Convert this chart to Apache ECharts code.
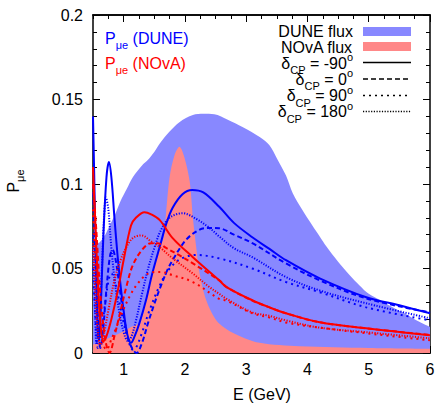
<!DOCTYPE html>
<html><head><meta charset="utf-8">
<script src="https://cdn.jsdelivr.net/npm/echarts@6/dist/echarts.min.js"></script>
<style>html,body{margin:0;padding:0;background:#fff}#c{width:438px;height:403px}</style>
</head><body><div id="c"></div>
<script>
// ---- data (E in GeV, P_mue) ----
const xTickLabels = [1, 2, 3, 4, 5, 6];
const yTickLabels = [0, 0.05, 0.1, 0.15, 0.2];

const duneFluxE = [0.5,0.55,0.62,0.7,0.78,0.86,0.95,1.05,1.15,1.3,1.39,1.5,1.59,1.75,1.91,2.13,2.3,2.48,2.7,2.94,3.22,3.38,3.5,3.65,3.76,3.92,4.08,4.2,4.31,4.5,4.69,4.85,5.0,5.2,5.39,5.61,5.8,6.0];
const duneFluxP = [0.062,0.064,0.066,0.070,0.076,0.082,0.090,0.097,0.104,0.111,0.114,0.119,0.124,0.131,0.1366,0.1408,0.1415,0.1412,0.138,0.1337,0.1278,0.123,0.1153,0.105,0.0946,0.0845,0.0755,0.069,0.063,0.054,0.046,0.040,0.035,0.031,0.027,0.023,0.019,0.0155];

const novaFluxE = [0.5,0.7,0.95,1.1,1.26,1.35,1.42,1.52,1.59,1.65,1.69,1.75,1.83,1.91,1.99,2.08,2.13,2.19,2.24,2.35,2.52,2.78,3.22,3.87,5.0,6.0];
const novaFluxP = [0.005,0.008,0.012,0.015,0.018,0.028,0.041,0.055,0.062,0.068,0.082,0.104,0.117,0.122,0.116,0.101,0.080,0.061,0.047,0.031,0.019,0.012,0.006,0.004,0.003,0.0025];

// DUNE, delta_CP = -90
const duneM90E = [0.5,0.52,0.55,0.58,0.6,0.63,0.67,0.72,0.76,0.8,0.85,0.9,0.95,1.0,1.06,1.12,1.18,1.26,1.37,1.46,1.59,1.7,1.8,1.96,2.12,2.3,2.56,2.8,3.1,3.38,3.65,4.2,4.96,5.5,6.0];
const duneM90P = [0.140,0.105,0.050,0.010,0.008,0.030,0.070,0.104,0.113,0.104,0.080,0.058,0.040,0.025,0.011,0.006,0.010,0.018,0.032,0.046,0.063,0.077,0.086,0.094,0.0965,0.095,0.0865,0.077,0.0685,0.0616,0.0549,0.0442,0.033,0.0282,0.0235];
// DUNE, delta_CP = 0
const dune0E = [0.5,0.55,0.6,0.62,0.66,0.72,0.78,0.82,0.87,0.93,1.0,1.08,1.15,1.21,1.3,1.4,1.5,1.59,1.7,1.8,2.02,2.24,2.4,2.56,2.8,3.1,3.65,4.2,4.96,6.0];
const dune0P = [0.100,0.045,0.008,0.003,0.012,0.038,0.058,0.061,0.055,0.040,0.022,0.008,0.002,0.000,0.006,0.018,0.029,0.038,0.048,0.055,0.067,0.073,0.074,0.0738,0.070,0.065,0.053,0.043,0.0323,0.024];
// DUNE, delta_CP = 90
const dune90E = [0.5,0.54,0.58,0.63,0.7,0.76,0.8,0.86,0.93,1.0,1.08,1.15,1.2,1.3,1.42,1.59,1.75,1.95,2.19,2.56,3.1,3.65,4.2,4.96,6.0];
const dune90P = [0.050,0.020,0.003,0.010,0.030,0.044,0.047,0.042,0.030,0.018,0.007,0.002,0.003,0.012,0.025,0.040,0.050,0.056,0.058,0.056,0.050,0.042,0.036,0.027,0.0193];
// DUNE, delta_CP = 180
const dune180E = [0.5,0.53,0.56,0.6,0.64,0.68,0.71,0.75,0.8,0.87,0.95,1.02,1.07,1.13,1.2,1.3,1.4,1.5,1.6,1.75,1.96,2.2,2.4,2.56,2.8,3.1,3.65,4.2,4.96,6.0];
const dune180P = [0.070,0.030,0.005,0.015,0.045,0.080,0.092,0.085,0.062,0.038,0.020,0.010,0.007,0.010,0.019,0.035,0.050,0.062,0.072,0.080,0.0827,0.079,0.074,0.069,0.062,0.0567,0.0449,0.037,0.0294,0.0205];

// NOvA, delta_CP = -90
const novaM90E = [0.5,0.54,0.58,0.62,0.67,0.72,0.8,0.9,1.0,1.12,1.2,1.34,1.45,1.59,1.8,2.13,2.56,2.68,3.1,3.38,3.65,4.2,4.96,6.0];
const novaM90P = [0.110,0.075,0.042,0.018,0.007,0.010,0.020,0.036,0.055,0.0755,0.080,0.0833,0.082,0.0786,0.068,0.0567,0.043,0.039,0.0312,0.027,0.0235,0.0182,0.0146,0.0105];
// NOvA, delta_CP = 0
const nova0E = [0.5,0.55,0.62,0.7,0.77,0.85,0.95,1.05,1.15,1.3,1.45,1.55,1.7,1.9,2.13,2.56,2.68,3.1,3.38,3.65,4.2,4.96,6.0];
const nova0P = [0.100,0.075,0.035,0.008,0.000,0.010,0.025,0.040,0.052,0.061,0.065,0.065,0.062,0.058,0.053,0.043,0.039,0.031,0.027,0.0235,0.0182,0.0146,0.0107];
// NOvA, delta_CP = 90
const nova90E = [0.5,0.55,0.62,0.68,0.72,0.8,0.9,1.0,1.12,1.25,1.4,1.6,1.8,2.13,2.56,2.68,3.1,3.38,3.65,4.2,4.96,6.0];
const nova90P = [0.085,0.050,0.018,0.004,0.002,0.008,0.017,0.026,0.035,0.042,0.047,0.048,0.046,0.042,0.032,0.031,0.0235,0.021,0.018,0.015,0.0117,0.0075];
// NOvA, delta_CP = 180
const nova180E = [0.5,0.54,0.58,0.62,0.67,0.75,0.85,0.95,1.05,1.15,1.29,1.45,1.59,1.8,2.13,2.4,2.56,2.68,3.1,3.38,3.65,4.2,4.96,6.0];
const nova180P = [0.065,0.035,0.012,0.005,0.010,0.025,0.043,0.055,0.063,0.068,0.0696,0.066,0.0626,0.056,0.047,0.039,0.035,0.032,0.024,0.022,0.0193,0.015,0.0123,0.0087];

// ---- chart ----
const FONT = "'Liberation Sans', Arial, Helvetica, sans-serif";
const BLUE = '#0000ff', RED = '#ff0000';
const zip = (a, b) => a.map((v, i) => [v, b[i]]);
const frameLine = { show: true, onZero: false, lineStyle: { color: '#000', width: 1.5 } };
const tickStyle = { color: '#000', width: 1 };

function xAx(pos, major, labels) {
  return {
    type: 'value', position: pos, min: 0.5, max: 6, interval: 0.25,
    axisLine: frameLine,
    axisTick: major ? { show: true, inside: true, length: 7, customValues: xTickLabels, lineStyle: tickStyle }
                    : { show: true, inside: true, length: 4, lineStyle: tickStyle },
    axisLabel: labels ? { show: true, customValues: xTickLabels, fontSize: 16, color: '#000', fontFamily: FONT, margin: 8 }
                      : { show: false },
    splitLine: { show: false }
  };
}
function yAx(pos, labels) {
  return {
    type: 'value', position: pos, min: 0, max: 0.2, interval: 0.05,
    axisLine: frameLine,
    axisTick: { show: true, inside: true, length: 7, lineStyle: tickStyle },
    minorTick: { show: true, splitNumber: 5, length: 4, lineStyle: tickStyle },
    axisLabel: labels ? { show: true, fontSize: 16, color: '#000', fontFamily: FONT, margin: 10 } : { show: false },
    splitLine: { show: false }, minorSplitLine: { show: false }
  };
}
function curve(E, P, color, dash) {
  return {
    type: 'line', data: zip(E, P), xAxisIndex: 0, yAxisIndex: 0,
    showSymbol: false, symbol: 'none', smooth: 0.35, silent: true,
    lineStyle: { color: color, width: 2, type: dash }
  };
}
function area(E, P, color) {
  return {
    type: 'line', data: zip(E, P), xAxisIndex: 0, yAxisIndex: 0,
    showSymbol: false, symbol: 'none', smooth: 0.3, silent: true,
    lineStyle: { width: 0, opacity: 0 },
    areaStyle: { color: color, opacity: 1 }
  };
}

const DASH = [5, 3], DOT = [2, 4], FINE = [1.2, 1.5];

// text composed of segments with sub/superscripts: [text, fontSize, dy]
const mctx = document.createElement('canvas').getContext('2d');
function measure(t, size) { mctx.font = size + 'px ' + FONT; return mctx.measureText(t).width; }
function compose(x, y, segs, color, align, rotation) {
  const widths = segs.map(s => measure(s[0], s[1]));
  const total = widths.reduce((a, b) => a + b, 0);
  let cx = align === 'right' ? -total : (align === 'center' ? -total / 2 : 0);
  const children = segs.map((s, i) => {
    const el = { type: 'text', x: cx, y: s[2], silent: true,
      style: { text: s[0], fontSize: s[1], fontFamily: FONT, fill: color, align: 'left', verticalAlign: 'middle' } };
    cx += widths[i];
    return el;
  });
  return { type: 'group', x: x, y: y, rotation: rotation || 0, silent: true, children: children };
}
const M = 16, S = 11;
const pmue = (rest) => [['P', M, 0], ['μe', S, 7]].concat(rest ? [[rest, M, 0]] : []);
const dcp = (v) => [['δ', M, 0], ['CP', S, 7], [' = ' + v, M, 0], ['o', S, -6]];

function legLine(y, dash) {
  return { type: 'line', silent: true, shape: { x1: 363, y1: y, x2: 411, y2: y },
    style: { stroke: '#000', lineWidth: 1.6, lineDash: dash } };
}

const chart = echarts.init(document.getElementById('c'), null, { renderer: 'svg' });
chart.setOption({
  animation: false,
  backgroundColor: '#fff',
  grid: { left: 93, right: 8, top: 15, bottom: 50, containLabel: false },
  xAxis: [xAx('bottom', false, false), xAx('bottom', true, true), xAx('top', false, false), xAx('top', true, false)],
  yAxis: [yAx('left', true), yAx('right', false)],
  series: [
    area(duneFluxE, duneFluxP, '#8888ff'),
    area(novaFluxE, novaFluxP, '#ff8888'),
    curve(duneM90E, duneM90P, BLUE, 'solid'),
    curve(dune0E, dune0P, BLUE, DASH),
    curve(dune90E, dune90P, BLUE, DOT),
    curve(dune180E, dune180P, BLUE, FINE),
    curve(novaM90E, novaM90P, RED, 'solid'),
    curve(nova0E, nova0P, RED, DASH),
    curve(nova90E, nova90P, RED, DOT),
    curve(nova180E, nova180P, RED, FINE)
  ],
  graphic: [
    compose(105, 38, pmue(' (DUNE)'), BLUE, 'left'),
    compose(105, 63, pmue(' (NOvA)'), RED, 'left'),
    compose(353, 31, [['DUNE flux', M, 0]], '#000', 'right'),
    compose(353, 47, [['NOvA flux', M, 0]], '#000', 'right'),
    compose(353, 63, dcp('-90'), '#000', 'right'),
    compose(353, 79, dcp('0'), '#000', 'right'),
    compose(353, 95.5, dcp('90'), '#000', 'right'),
    compose(353, 111.5, dcp('180'), '#000', 'right'),
    { type: 'rect', silent: true, shape: { x: 363, y: 27, width: 48, height: 9 }, style: { fill: '#8888ff' } },
    { type: 'rect', silent: true, shape: { x: 363, y: 42, width: 48, height: 9 }, style: { fill: '#ff8888' } },
    legLine(62.5, null),
    legLine(79, DASH),
    legLine(95.5, DOT),
    legLine(111.5, FINE),
    compose(262, 394, [['E (GeV)', M, 0]], '#000', 'center'),
    compose(13, 181, pmue(null), '#000', 'center', Math.PI / 2)
  ]
});
</script>
</body></html>
